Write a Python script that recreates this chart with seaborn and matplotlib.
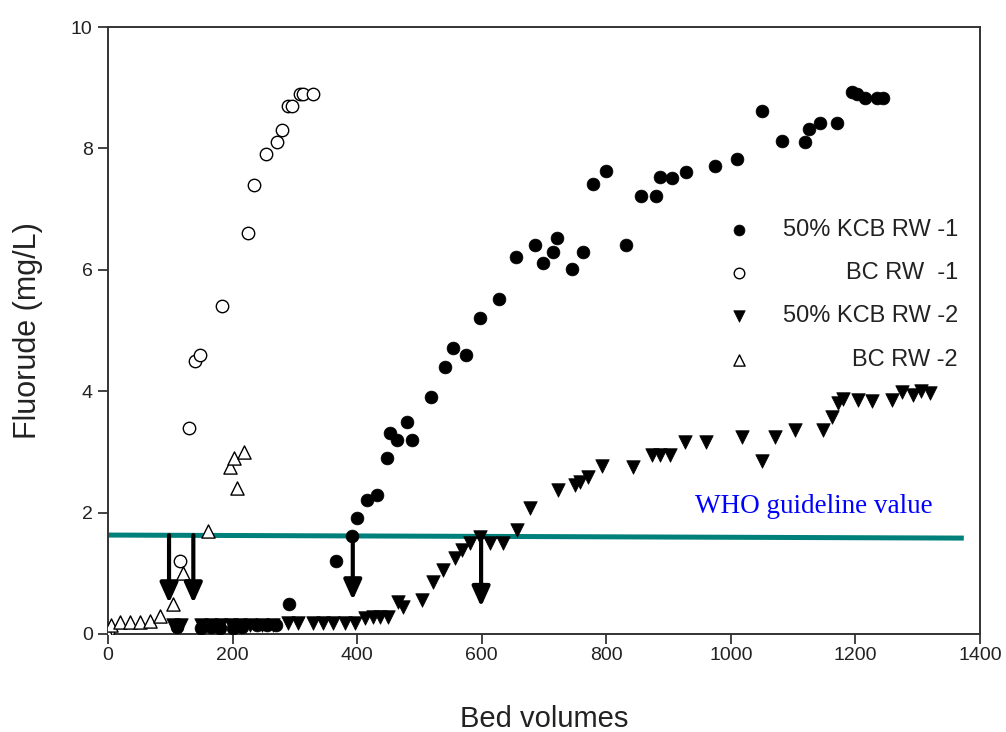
import matplotlib
matplotlib.use("Agg")
import matplotlib.pyplot as plt
import seaborn as sns

# ---- data ----
kcb1_x = [110, 150, 165, 180, 200, 215, 240, 255, 270, 291, 366, 392, 400, 416, 432, 448, 453, 464,
          480, 488, 518, 541, 554, 575, 597, 628, 655, 685, 698, 714, 721, 745, 762, 779, 800, 831,
          856, 880, 886, 905, 928, 974, 1010, 1050, 1082, 1119, 1126, 1143, 1170, 1194, 1202, 1215,
          1234, 1244]
kcb1_y = [0.12, 0.10, 0.12, 0.10, 0.10, 0.12, 0.15, 0.15, 0.15, 0.50, 1.20, 1.62, 1.91, 2.20, 2.29,
          2.90, 3.31, 3.20, 3.49, 3.20, 3.90, 4.40, 4.71, 4.60, 5.20, 5.52, 6.21, 6.41, 6.11, 6.30,
          6.52, 6.01, 6.29, 7.42, 7.62, 6.41, 7.21, 7.21, 7.53, 7.51, 7.61, 7.71, 7.82, 8.62, 8.12,
          8.10, 8.32, 8.42, 8.42, 8.93, 8.90, 8.83, 8.83, 8.83]

bc1_x = [0, 116, 130, 140, 148, 183, 225, 234, 254, 271, 279, 289, 295, 308, 313, 329]
bc1_y = [0.05, 1.20, 3.40, 4.50, 4.60, 5.40, 6.60, 7.40, 7.90, 8.10, 8.30, 8.70, 8.70, 8.90, 8.90, 8.90]

kcb2_x = [105, 118, 150, 165, 182, 197, 212, 228, 248, 265, 289, 305, 329, 345, 361, 380, 396, 412,
          425, 437, 450, 466, 473, 504, 522, 538, 557, 568, 581, 597, 613, 634, 656, 677, 722, 750,
          757, 770, 793, 843, 873, 886, 902, 926, 960, 1018, 1050, 1071, 1103, 1148, 1162, 1172,
          1180, 1204, 1227, 1258, 1275, 1292, 1305, 1320]
kcb2_y = [0.15, 0.15, 0.15, 0.15, 0.15, 0.15, 0.15, 0.15, 0.15, 0.15, 0.18, 0.18, 0.18, 0.18, 0.18,
          0.18, 0.18, 0.26, 0.28, 0.28, 0.28, 0.53, 0.45, 0.56, 0.86, 1.05, 1.25, 1.38, 1.50, 1.60,
          1.50, 1.50, 1.71, 2.08, 2.37, 2.45, 2.50, 2.59, 2.77, 2.75, 2.95, 2.95, 2.95, 3.16, 3.16,
          3.25, 2.85, 3.25, 3.36, 3.36, 3.58, 3.80, 3.87, 3.86, 3.84, 3.86, 3.99, 3.94, 4.00, 3.97]

bc2_x = [0, 5, 19, 35, 51, 67, 83, 104, 120, 161, 196, 202, 207, 218]
bc2_y = [0.00, 0.15, 0.20, 0.20, 0.20, 0.22, 0.30, 0.50, 1.00, 1.70, 2.75, 2.90, 2.40, 3.00]

series_labels = ["50% KCB RW -1", "BC RW  -1", "50% KCB RW -2", "BC RW -2"]

guide_x = [0, 1374]
guide_y = [1.63, 1.58]
guide_label = "WHO guideline value"

arrow_x = [98, 137, 393, 599]
arrow_tip = [0.51, 0.51, 0.56, 0.45]

x_ticks = [0, 200, 400, 600, 800, 1000, 1200, 1400]
y_ticks = [0, 2, 4, 6, 8, 10]

# ---- style ----
sns.set_style("white")
plt.rcParams["font.family"] = ["Liberation Sans", "DejaVu Sans"]

fig = plt.figure(figsize=(10.06, 7.32), dpi=100)
ax = fig.add_axes([108 / 1006, 1 - 634 / 732, (980 - 108) / 1006, (634 - 27) / 732])

sns.scatterplot(x=kcb1_x, y=kcb1_y, ax=ax, marker="o", s=85, color="black",
                edgecolor="black", linewidth=0.5, label=series_labels[0], zorder=3)
sns.scatterplot(x=bc1_x, y=bc1_y, ax=ax, marker="o", s=80, color="white",
                edgecolor="black", linewidth=1.0, label=series_labels[1], zorder=3)
sns.scatterplot(x=kcb2_x, y=kcb2_y, ax=ax, marker="v", s=95, color="black",
                edgecolor="black", linewidth=0.5, label=series_labels[2], zorder=3)
sns.scatterplot(x=bc2_x, y=bc2_y, ax=ax, marker="^", s=90, color="white",
                edgecolor="black", linewidth=1.0, label=series_labels[3], zorder=3)

# WHO guideline line
ax.plot(guide_x, guide_y, color="#00807a", lw=3.6, solid_capstyle="butt", zorder=2)
ax.text(942, 2.0, guide_label, family=["Liberation Serif", "DejaVu Serif"],
        fontsize=19.5, color="#0000ff", va="baseline", ha="left")

# arrows
for xa, yt in zip(arrow_x, arrow_tip):
    ax.annotate("", xy=(xa, yt), xytext=(xa, 1.63),
                arrowprops=dict(arrowstyle="-|>,head_width=0.27,head_length=0.6",
                                lw=3, color="black", mutation_scale=20,
                                shrinkA=0, shrinkB=0),
                zorder=4)

ax.set_xlim(0, 1400)
ax.set_ylim(0, 10)
ax.set_xticks(x_ticks)
ax.set_yticks(y_ticks)
ax.tick_params(axis="both", which="both", direction="out", length=7, width=1.2,
               labelsize=14, colors="#222222", bottom=True, left=True, top=False, right=False)
ax.tick_params(axis="x", pad=2)
ax.tick_params(axis="y", pad=4)
for sp in ax.spines.values():
    sp.set_visible(True)
    sp.set_color("#333333")
    sp.set_linewidth(1.4)

ax.set_xlabel("Bed volumes", fontsize=21, color="#222222", labelpad=30)
ax.set_ylabel("Fluorude (mg/L)", fontsize=22, color="#222222", labelpad=20)

leg = ax.legend(loc="upper right", bbox_to_anchor=(958 / 1006, 1 - 219 / 732),
                bbox_transform=fig.transFigure, frameon=False, fontsize=17,
                markerscale=0.85, handletextpad=0.85, labelspacing=0.9, borderpad=0,
                borderaxespad=0)
fig.canvas.draw()
texts = leg.get_texts()
widths = [t.get_window_extent().width for t in texts]
maxw = max(widths)
for t, w in zip(texts, widths):
    t.set_position((maxw - w, 0))
    t.set_color("#222222")

fig.savefig("out.png", dpi=100)
